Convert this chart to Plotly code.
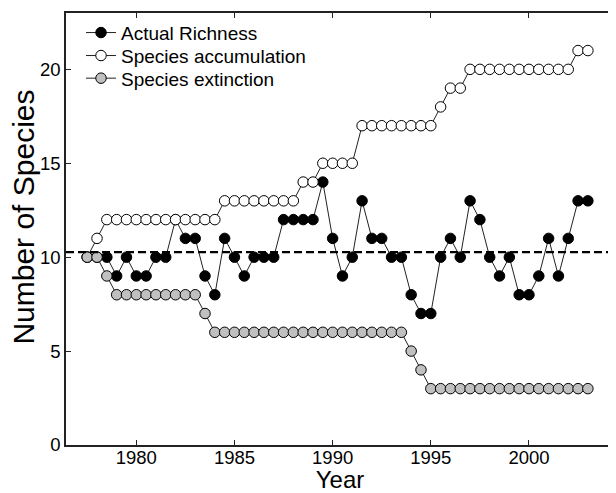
import numpy as np
import plotly.graph_objects as go

years = [1977.5 + 0.5 * i for i in range(52)]

actual_richness = [10, 10, 10, 9, 10, 9, 9, 10, 10, 12, 11, 11, 9, 8, 11, 10, 9, 10, 10, 10,
                   12, 12, 12, 12, 14, 11, 9, 10, 13, 11, 11, 10, 10, 8, 7, 7, 10, 11, 10, 13,
                   12, 10, 9, 10, 8, 8, 9, 11, 9, 11, 13, 13]

species_accumulation = [10, 11] + [12] * 12 + [13] * 8 + [14] * 2 + [15] * 4 + [17] * 8 + \
                       [18] + [19] * 2 + [20] * 11 + [21] * 2

species_extinction = [10, 10, 9] + [8] * 9 + [7] + [6] * 20 + [5, 4] + [3] * 17

x_ticks = [1980, 1985, 1990, 1995, 2000]
y_ticks = [0, 5, 10, 15, 20]

FONT = "Liberation Sans, Arial, sans-serif"

fig = go.Figure()

series = [
    ("Actual Richness", actual_richness, "black", "legend"),
    ("Species accumulation", species_accumulation, "white", "legend2"),
    ("Species extinction", species_extinction, "#c0c0c0", "legend3"),
]
for name, vals, fill, leg in series:
    fig.add_trace(go.Scatter(
        x=years, y=vals, name=name, mode="lines+markers", legend=leg,
        line=dict(color="#222222", width=1),
        marker=dict(size=10.5, color=fill, line=dict(color="black", width=1)),
    ))

mean_richness = float(np.mean(actual_richness))
fig.add_shape(type="line", xref="paper", x0=0, x1=1, yref="y",
              y0=mean_richness, y1=mean_richness,
              line=dict(color="black", width=2.4, dash="8px,4px"), layer="above")

axis_common = dict(
    showgrid=False, zeroline=False, showline=True, linecolor="#222222", linewidth=1.5,
    mirror="ticks", ticks="inside", ticklen=5, tickwidth=1, tickcolor="#222222",
    tickfont=dict(family=FONT, size=18.5, color="black"), automargin=False,
)

fig.update_xaxes(range=[1976.42, 2004.33], tickvals=x_ticks, ticklabelstandoff=-5,
                 title=dict(text="Year", font=dict(family=FONT, size=24, color="black"), standoff=3),
                 **axis_common)
fig.update_yaxes(range=[0, 23], tickvals=y_ticks, **axis_common)

# y-axis title as a rotated text label (sits a little above the plot's vertical centre)
fig.add_annotation(text="Number of Species", textangle=-90, showarrow=False,
                   xref="paper", yref="paper", x=-0.0772, y=0.528,
                   xanchor="center", yanchor="middle",
                   font=dict(family=FONT, size=30, color="black"))

leg_common = dict(x=0.0274, xanchor="left", yanchor="middle", bgcolor="rgba(0,0,0,0)",
                  font=dict(family=FONT, size=19, color="black"), itemwidth=30,
                  borderwidth=0)
# The page body adds an 8 px margin, so the figure is sized 8 px smaller on each axis.
fig.update_layout(
    width=608, height=485,
    margin=dict(l=58, r=2, t=5, b=48),
    paper_bgcolor="white", plot_bgcolor="white",
    font=dict(family=FONT, color="black"),
    showlegend=True,
    legend=dict(y=0.9544, **leg_common),
    legend2=dict(y=0.9012, **leg_common),
    legend3=dict(y=0.8488, **leg_common),
)

fig.write_html("out.html")
